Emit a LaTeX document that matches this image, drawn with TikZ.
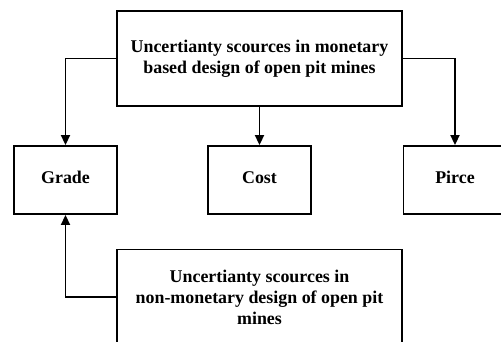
\documentclass[tikz,border=0pt]{standalone}
\usepackage{fontspec}
\setmainfont{Liberation Serif}
\usepackage{tikz}
\usetikzlibrary{positioning, arrows.meta}

\begin{document}
\begin{tikzpicture}[x=1pt, y=-1pt, line width=1.9pt,
  big box/.style={rectangle,draw,minimum width=285pt,minimum height=95pt,align=center,
    font=\fontsize{17.9}{21}\selectfont\bfseries},
  small box/.style={rectangle,draw,minimum width=103pt,minimum height=68pt,
    text height=0.66em,text depth=0pt,font=\fontsize{17.9}{21}\selectfont\bfseries},
  link/.style={-{Triangle[length=10pt,width=9pt]}}]

\clip (0,0) rectangle (501,341);
\fill[white] (0,0) rectangle (501,341);

\node[big box] (money) at (259.5,58.5) {Uncertianty scources in monetary\\based design of open pit mines};
\node[small box] (grade) at (65.5,180) {Grade};
\node[small box] (cost) at (259.5,180) {Cost};
\node[small box] (price) at (455,180) {Pirce};
\node[big box] (nonmoney) at (259.5,297) {Uncertianty scources in\\non-monetary design of open pit\\mines};

\draw[link] (money.west) -| (grade.north);
\draw[link] (money.south) -- (cost.north);
\draw[link] (money.east) -| (price.north);
\draw[link] (nonmoney.west) -| (grade.south);

\end{tikzpicture}
\end{document}
